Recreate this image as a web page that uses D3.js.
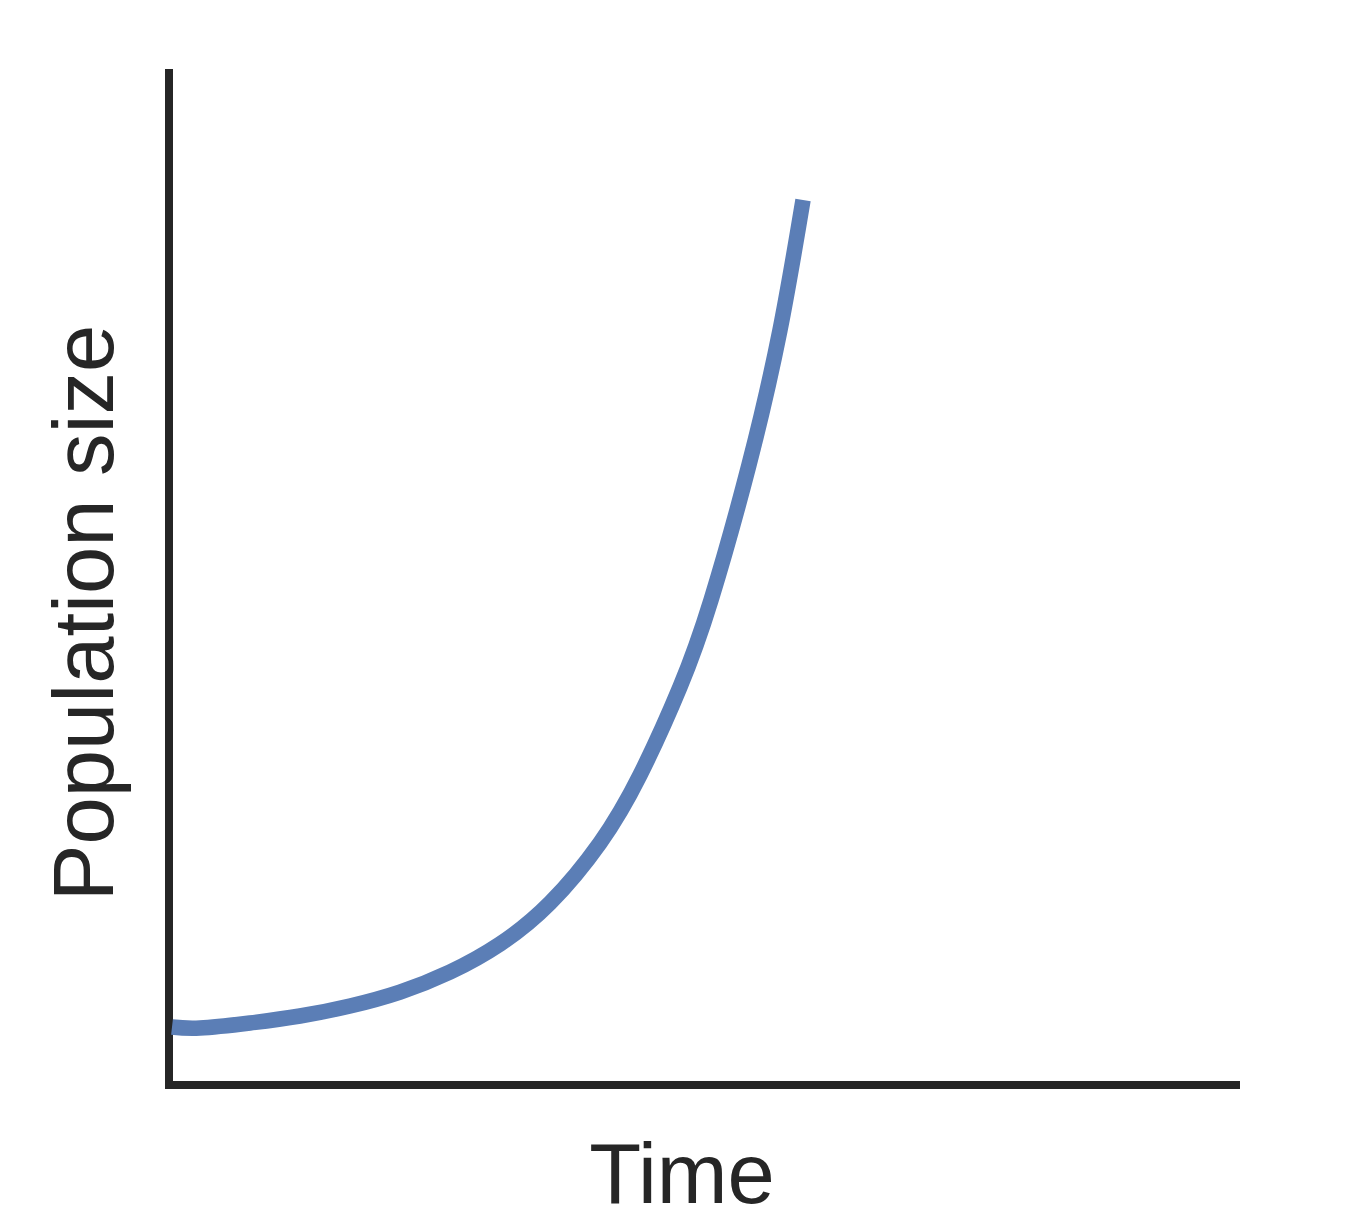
<!DOCTYPE html>
<html>
<head>
<meta charset="utf-8">
<script src="https://cdn.jsdelivr.net/npm/d3@7/dist/d3.min.js"></script>
<style>
  html, body { margin: 0; padding: 0; background: #ffffff; overflow: hidden; }
  svg { display: block; }
</style>
</head>
<body>
<script>
// Data (arbitrary units)
const time = [0.028, 0.289, 0.756, 1.223, 1.690, 2.157, 2.624, 3.091, 3.557, 4.024, 4.398, 4.771, 5.061, 5.415, 5.705, 5.920];
const population = [0.571, 0.561, 0.610, 0.679, 0.778, 0.915, 1.112, 1.388, 1.791, 2.382, 3.051, 3.917, 4.774, 6.102, 7.431, 8.711];
const xLabel = "Time";
const yLabel = "Population size";

const W = 1348, H = 1221;
const svg = d3.select("body").append("svg").attr("width", W).attr("height", H);

const x = d3.scaleLinear().domain([0, 10]).range([169, 1240]);
const y = d3.scaleLinear().domain([0, 10]).range([1085, 69]);

const axisColor = "#262626";

// Spines via d3 axes without ticks
const xAxis = svg.append("g")
  .attr("transform", `translate(0,${y(0)})`)
  .call(d3.axisBottom(x).tickValues([]).tickSizeOuter(0));
xAxis.select(".domain").attr("stroke", axisColor).attr("stroke-width", 8).attr("d", `M${x(0) - 4},0H${x(10)}`);

const yAxis = svg.append("g")
  .attr("transform", `translate(${x(0)},0)`)
  .call(d3.axisLeft(y).tickValues([]).tickSizeOuter(0));
yAxis.select(".domain").attr("stroke", axisColor).attr("stroke-width", 8).attr("d", `M0,${y(0) + 4}V${y(10)}`);

// Curve
const pts = time.map((t, i) => [t, population[i]]);
const line = d3.line().x(d => x(d[0])).y(d => y(d[1])).curve(d3.curveNatural);
svg.append("path")
  .datum(pts)
  .attr("d", line)
  .attr("fill", "none")
  .attr("stroke", "#5b7eb6")
  .attr("stroke-width", 15.5)
  .attr("stroke-linecap", "butt");

// Labels
svg.append("text")
  .attr("x", 682).attr("y", 1203)
  .attr("text-anchor", "middle")
  .attr("font-family", "Liberation Sans, Arial, sans-serif")
  .attr("font-size", 85)
  .attr("fill", axisColor)
  .text(xLabel);

svg.append("text")
  .attr("transform", "translate(113,613) rotate(-90)")
  .attr("text-anchor", "middle")
  .attr("font-family", "Liberation Sans, Arial, sans-serif")
  .attr("font-size", 85)
  .attr("fill", axisColor)
  .text(yLabel);
</script>
</body>
</html>
